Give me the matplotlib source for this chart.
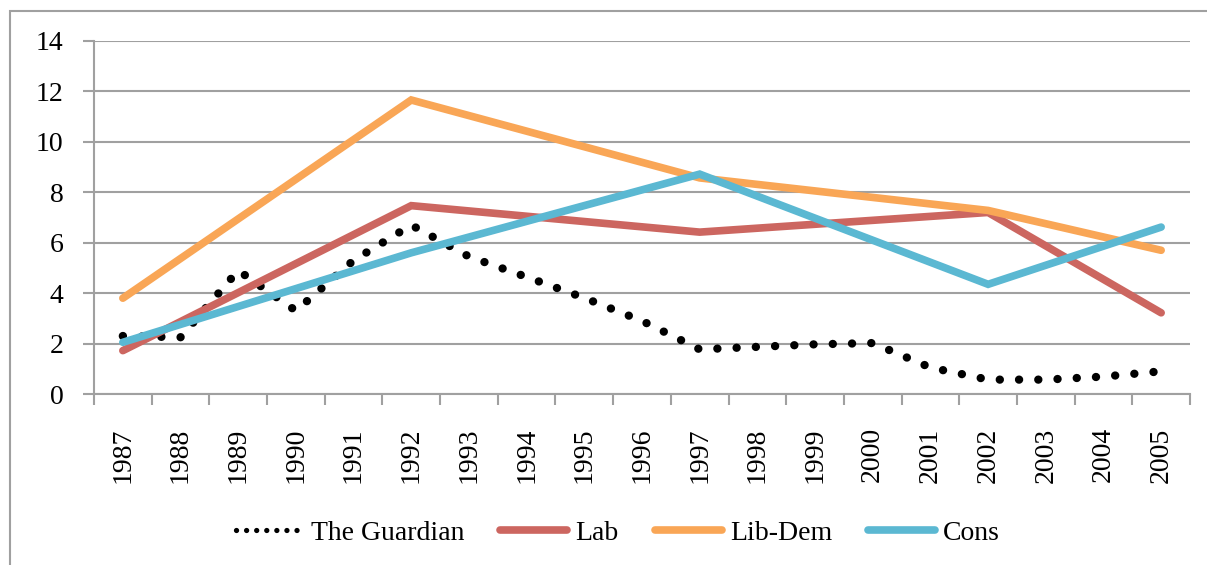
import matplotlib.pyplot as plt
from matplotlib.lines import Line2D
from matplotlib.patches import Rectangle
import numpy as np

# data
years = list(range(1987, 2006))
guardian = [2.3, 2.25, 4.9, 3.3, 5.3, 6.7, 5.45, 4.64, 3.81, 2.9, 1.77,
            1.87, 1.97, 2.02, 1.05, 0.57, 0.57, 0.69, 0.9]

election_years = [1987, 1992, 1997, 2002, 2005]
lab = [1.72, 7.47, 6.42, 7.2, 3.22]
libdem = [3.8, 11.66, 8.57, 7.28, 5.7]
cons = [2.05, 5.6, 8.72, 4.35, 6.62]

labels = ["The Guardian", "Lab", "Lib-Dem", "Cons"]
c_lab = "#CC6660"
c_libdem = "#F9A656"
c_cons = "#5BB8D2"
grid_c = "#A0A0A0"

plt.rcParams['font.family'] = ['Liberation Serif', 'DejaVu Serif']

fig = plt.figure(figsize=(12.07, 5.65), dpi=100)
W, H = 1207, 565
ax = fig.add_axes([94/W, 1-394/H, (1190-94)/W, (394-41)/H])

# outer chart border (cropped at right/bottom)
fig.patches.append(Rectangle((10/W, -0.1), 1.2, 1-11/H+0.1, transform=fig.transFigure,
                             fill=False, edgecolor=grid_c, linewidth=1.5))

ax.plot(years, guardian, color="black", linewidth=6,
        linestyle=(0, (0.01, 2.3)), dash_capstyle="round", zorder=3)
ax.plot(election_years, lab, color=c_lab, linewidth=5.5, solid_capstyle="round",
        solid_joinstyle="miter", zorder=4)
ax.plot(election_years, libdem, color=c_libdem, linewidth=5.5, solid_capstyle="round",
        solid_joinstyle="miter", zorder=4)
ax.plot(election_years, cons, color=c_cons, linewidth=5.5, solid_capstyle="round",
        solid_joinstyle="miter", zorder=5)

ax.set_xlim(1986.5, 2005.5)
ax.set_ylim(0, 14)
ax.set_yticks(np.arange(0, 15, 2))
ax.set_xticks(np.arange(1986.5, 2006, 1))
ax.set_xticklabels([])
ax.set_xticks(years, minor=True)
ax.set_xticklabels([str(y) for y in years], minor=True, rotation=90, fontsize=20)
ax.tick_params(axis="x", which="minor", length=0, pad=24)
ax.tick_params(axis="x", which="major", length=8, width=1.5, color=grid_c)
ax.tick_params(axis="y", length=8, width=1.5, color=grid_c, labelsize=20, pad=14)

ax.grid(axis="y", color=grid_c, linewidth=1.5, zorder=0)
ax.set_axisbelow(True)
for s in ["top", "right"]:
    ax.spines[s].set_visible(False)
for s in ["left", "bottom"]:
    ax.spines[s].set_color(grid_c)
    ax.spines[s].set_linewidth(1.5)

handles = [
    Line2D([], [], color="black", linewidth=3.8, linestyle=(0, (0.01, 1.9)),
           dash_capstyle="round"),
    Line2D([], [], color=c_lab, linewidth=5.5, solid_capstyle="round"),
    Line2D([], [], color=c_libdem, linewidth=5.5, solid_capstyle="round"),
    Line2D([], [], color=c_cons, linewidth=5.5, solid_capstyle="round"),
]
fig.legend(handles, labels, loc="center", bbox_to_anchor=(0.512, 1-533/H), ncol=4,
           frameon=False, fontsize=20, handlelength=2.4, handletextpad=0.3,
           columnspacing=1.3)

fig.savefig("out.png", dpi=100)
